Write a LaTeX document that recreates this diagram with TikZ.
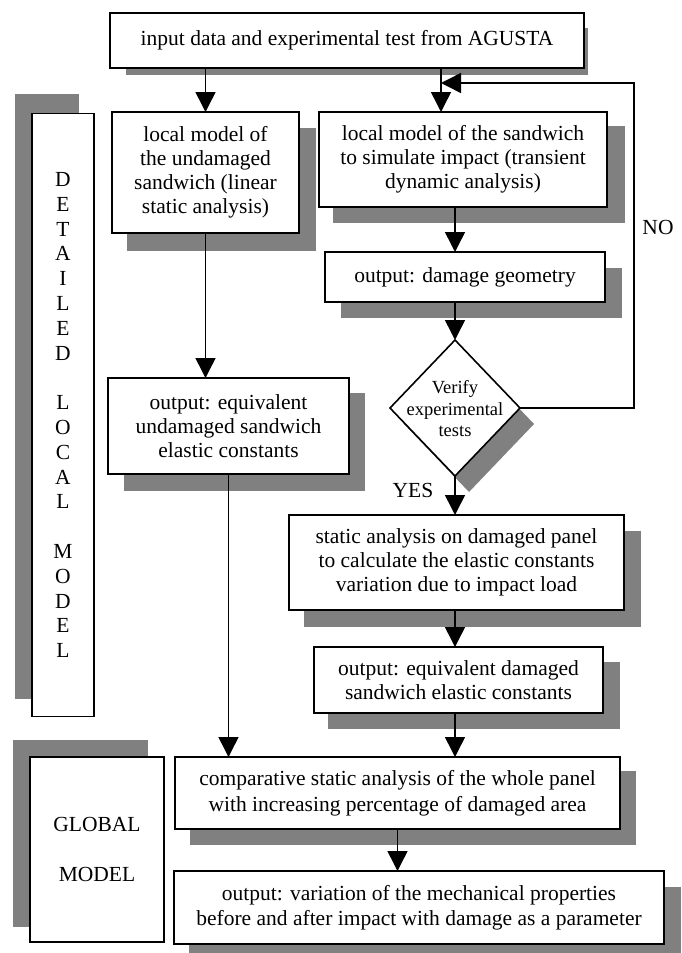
\documentclass[tikz,border=0pt]{standalone}
\usepackage{fontspec}
\setmainfont{Liberation Serif}
\usetikzlibrary{shapes.geometric,arrows.meta}
\definecolor{shd}{RGB}{128,128,128}
\begin{document}
\begin{tikzpicture}[x=1pt,y=-1pt,
 box/.style={draw, line width=1.6pt, fill=white, inner sep=0pt, outer sep=0pt, align=center, font=\fontsize{21.5}{24}\selectfont},
 dia/.style={draw, diamond, line width=1.6pt, fill=white, inner sep=0pt, outer sep=0pt},
 dtext/.style={align=center, inner sep=0pt, font=\fontsize{18.5}{21.5}\selectfont},
 lab/.style={inner sep=0pt, font=\fontsize{21.5}{24}\selectfont},
 arr/.style={line width=1.5pt, -{Triangle[width=20pt,length=20pt]}},
 shadow/.style={fill=shd}]
\useasboundingbox (0,0) rectangle (681,953);
% shadows
\fill[shadow] (126,28) rectangle (588,75);
\fill[shadow] (127,128) rectangle (316,251);
\fill[shadow] (333,126) rectangle (625,223);
\fill[shadow] (341,268) rectangle (622,318);
\fill[shadow] (124,393) rectangle (365,491);
\fill[shadow] (304,531) rectangle (641,627);
\fill[shadow] (328,662) rectangle (620,729);
\fill[shadow] (190,771) rectangle (636,845);
\fill[shadow] (189,887) rectangle (681,953);
\fill[shadow] (15,94) rectangle (79,699);
\fill[shadow] (13,740) rectangle (148,927);
\fill[shadow] (469,356) -- (534,424) -- (469,492) -- (404,424) -- cycle;
% boxes
\node[box, minimum width=474pt, minimum height=55pt] (A) at (347,40.5) {input data and experimental test from AGUSTA};
\node[box, minimum width=187pt, minimum height=121pt] (B) at (205.5,172.5) {local model of\\the undamaged\\sandwich (linear\\static analysis)};
\node[box, minimum width=288pt, minimum height=95pt] (C) at (463,159.5) {local model of the sandwich\\to simulate impact (transient\\dynamic analysis)};
\node[box, minimum width=280pt, minimum height=50pt] (D) at (465,277) {output: damage geometry};
\node[box, minimum width=241pt, minimum height=96pt] (E) at (228.5,426) {output: equivalent\\undamaged sandwich\\elastic constants};
\node[dia, minimum width=130pt, minimum height=136pt] (F) at (455,408) {};
\node[dtext] (Ft) at (455,409) {Verify\\experimental\\tests};
\node[box, minimum width=335pt, minimum height=95pt] (G) at (456.5,562.5) {static analysis on damaged panel\\to calculate the elastic constants\\variation due to impact load};
\node[box, minimum width=289pt, minimum height=66pt] (H) at (458.5,680) {output: equivalent damaged\\sandwich elastic constants};
\node[box, minimum width=445pt, minimum height=72pt, font=\fontsize{21.5}{26.5}\selectfont] (I) at (397.5,793) {comparative static analysis of the whole panel\\with increasing percentage of damaged area};
\node[box, minimum width=490pt, minimum height=73pt, font=\fontsize{21.5}{25}\selectfont] (J) at (419,907.5) {output: variation of the mechanical properties\\before and after impact with damage as a parameter};
\node[box, minimum width=62pt, minimum height=603pt, font=\fontsize{21.5}{24.8}\selectfont] (DL) at (63,415) {D\\E\\T\\A\\I\\L\\E\\D\\\mbox{}\\L\\O\\C\\A\\L\\\mbox{}\\M\\O\\D\\E\\L};
\node[box, minimum width=134pt, minimum height=185pt, font=\fontsize{21.5}{50}\selectfont] (GM) at (97,849.5) {GLOBAL\\MODEL};
% labels
\node[lab] (no) at (658,227) {NO};
\node[lab] (yes) at (413,490) {YES};
% connectors
\coordinate (xc) at (441,0);
\coordinate (lp) at (634,83);
\draw[arr] (A.south -| B.north) -- (B.north);
\draw[arr] (A.south -| xc) -- (C.north -| xc);
\draw[arr] (C.south -| F.north) -- (D.north -| F.north);
\draw[arr] (B.south) -- (E.north -| B.south);
\draw[arr] (D.south -| F.north) -- (F.north);
\draw[arr] (F.south) -- (G.north -| F.south);
\draw[arr] (G.south -| F.south) -- (H.north -| F.south);
\draw[arr] (E.south) -- (I.north -| E.south);
\draw[arr] (H.south -| F.south) -- (I.north -| F.south);
\draw[arr] (I.south) -- (J.north -| I.south);
\draw[arr] (F.east) -- (F.east -| lp) -- (lp) -- (lp -| xc);
\end{tikzpicture}
\end{document}
